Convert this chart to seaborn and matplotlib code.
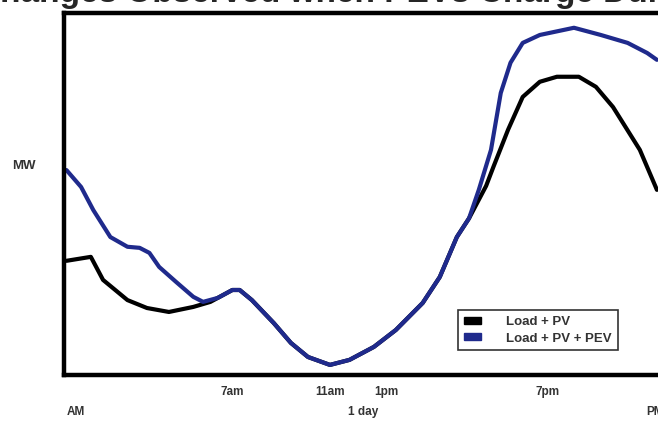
import numpy as np
import pandas as pd
import matplotlib
matplotlib.use("Agg")
import matplotlib.pyplot as plt
from matplotlib.patches import Patch
import seaborn as sns

# hours after midnight, demand in MW (arbitrary scale)
load_pv_hours = [0.1, 1.1, 1.6, 2.6, 3.4, 4.3, 5.3, 6.0, 6.9, 7.2, 7.7, 8.6,
                 9.3, 10.0, 10.9, 11.7, 12.7, 13.6, 14.7, 15.4, 16.1, 16.6,
                 17.3, 17.6, 18.2, 18.8, 19.5, 20.2, 21.1, 21.8, 22.5, 23.6, 24.3]
load_pv_mw = [31.7, 32.8, 26.4, 20.8, 18.6, 17.5, 18.9, 20.3, 23.6, 23.6, 20.8, 14.4,
              8.9, 5.0, 2.8, 4.2, 7.8, 12.5, 20.0, 27.2, 38.3, 43.5,
              52.5, 57.8, 68.1, 77.2, 81.4, 82.8, 82.8, 80.0, 74.4, 62.5, 51.4]

load_pv_pev_hours = [0.1, 0.7, 1.2, 1.9, 2.6, 3.1, 3.5, 3.9, 4.6, 5.3, 5.7, 6.3,
                     6.9, 7.2, 7.7, 8.6, 9.3, 10.0, 10.9, 11.7, 12.7, 13.6, 14.7,
                     15.4, 16.1, 16.6, 17.0, 17.5, 17.9, 18.3, 18.8, 19.5, 20.9,
                     22.0, 23.1, 23.9, 24.3]
load_pv_pev_mw = [56.9, 52.2, 45.8, 38.3, 35.6, 35.3, 33.9, 30.0, 25.8, 21.7, 20.3, 21.4,
                  23.6, 23.6, 20.8, 14.4, 8.9, 5.0, 2.8, 4.2, 7.8, 12.5, 20.0,
                  27.2, 38.3, 43.5, 51.4, 62.5, 78.3, 86.7, 92.2, 94.4, 96.4,
                  94.4, 92.2, 89.4, 87.5]

tick_hours = [6.9, 10.9, 13.2, 19.8]
tick_labels = ["7am", "11am", "1pm", "7pm"]
series_names = ["Load + PV", "Load + PV + PEV"]
series_colors = ["#000000", "#1f2a8c"]

sns.set_style("white")
plt.rcParams['font.family'] = ['Liberation Sans', 'DejaVu Sans']

fig = plt.figure(figsize=(6.58, 4.23), dpi=100)
ax = fig.add_axes([64 / 658, 1 - 375 / 423, 610 / 658, 362 / 423])

sns.lineplot(x=load_pv_hours, y=load_pv_mw, ax=ax, color=series_colors[0],
             lw=3, sort=False)
sns.lineplot(x=load_pv_pev_hours, y=load_pv_pev_mw, ax=ax, color=series_colors[1],
             lw=3, sort=False)

ax.set_xlim(0, 25)
ax.set_ylim(0, 100.5)
ax.set_yticks([])
ax.set_xticks(tick_hours)
ax.set_xticklabels(tick_labels, fontsize=8.5, fontweight="bold", color="#333333")
ax.tick_params(axis="x", length=0, pad=8)
for side in ["left", "top", "bottom", "right"]:
    ax.spines[side].set_linewidth(3.2)
    ax.spines[side].set_color("black")

handles = [Patch(facecolor=c, edgecolor=c) for c in series_colors]
leg = ax.legend(handles, series_names, loc="upper left",
                bbox_to_anchor=((458 - 64) / 610, (375 - 310) / 362),
                fontsize=9.5, frameon=True, fancybox=False, handlelength=1.3,
                handleheight=0.45, handletextpad=1.9, borderpad=0.45,
                labelspacing=0.35, borderaxespad=0)
leg.get_frame().set_edgecolor("black")
leg.get_frame().set_linewidth(1.2)
for t in leg.get_texts():
    t.set_fontweight("bold")
    t.set_color("#333333")

fig.text(12 / 658, 1 - 166 / 423, "MW", fontsize=9.5, fontweight="bold",
         color="#333333", va="center", ha="left")
fig.text(67 / 658, 1 - 412 / 423, "AM", fontsize=8.5, fontweight="bold",
         color="#333333", va="center", ha="left")
fig.text(363 / 658, 1 - 412 / 423, "1 day", fontsize=8.5, fontweight="bold",
         color="#333333", va="center", ha="center")
fig.text(646 / 658, 1 - 412 / 423, "PM", fontsize=8.5, fontweight="bold",
         color="#333333", va="center", ha="left")
fig.text(-24 / 658, 1 - 2 / 423, "Changes Observed when PEVs Charge During the Day",
         fontsize=24, fontweight="bold", va="baseline", ha="left")

fig.savefig("out.png", dpi=100)
